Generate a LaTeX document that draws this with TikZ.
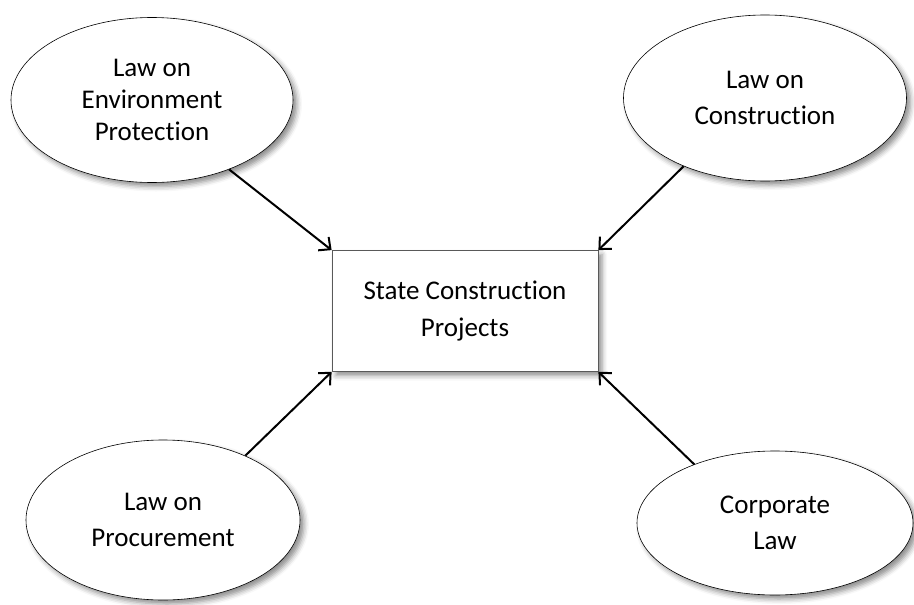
\documentclass[tikz,border=0pt]{standalone}
\usepackage{fontspec}
\setmainfont{Carlito}[Ligatures=NoCommon]
\usetikzlibrary{shapes.geometric,shadows.blur,arrows.meta}

\tikzset{
  lawshape/.style={ellipse, draw=black, line width=0.6pt, fill=white, inner sep=0pt,
    align=center, font=\fontsize{27}{36}\selectfont,
    blur shadow={shadow xshift=4pt, shadow yshift=-4pt, shadow blur radius=5pt, shadow opacity=45}},
  projbox/.style={rectangle, draw=black!65, line width=0.8pt, fill=white,
    minimum width=266pt, minimum height=121pt, align=center,
    font=\fontsize{27}{37}\selectfont,
    blur shadow={shadow xshift=4pt, shadow yshift=-4pt, shadow blur radius=5pt, shadow opacity=45}},
  lawarrow/.style={-{Straight Barb[length=9pt,width=17pt,line width=2pt]}, line width=2pt, black}
}

\begin{document}
\begin{tikzpicture}[x=1pt,y=-1pt]
    \useasboundingbox (0,0) rectangle (914,605);

    % 中央の箱
    \node[projbox] (proj) at (465,311) {State Construction\\Projects};

    % 周りの法律
    \node[lawshape, minimum width=282pt, minimum height=165pt,
          font=\fontsize{27}{32}\selectfont] (env) at (152,100) {Law on\\Environment\\Protection};
    \node[lawshape, minimum width=283pt, minimum height=166pt] (constr) at (765,98)  {Law on\\Construction};
    \node[lawshape, minimum width=274pt, minimum height=160pt] (proc)   at (163,520) {Law on\\Procurement};
    \node[lawshape, minimum width=276pt, minimum height=144pt] (corp)   at (775,523) {Corporate\\Law};

    % 矢印
    \draw[lawarrow] (env.-42)     -- (proj.north west);
    \draw[lawarrow] (constr.-140) -- (proj.north east);
    \draw[lawarrow] (proc.38)     -- (proj.south west);
    \draw[lawarrow] (corp.144)    -- (proj.south east);
\end{tikzpicture}
\end{document}
